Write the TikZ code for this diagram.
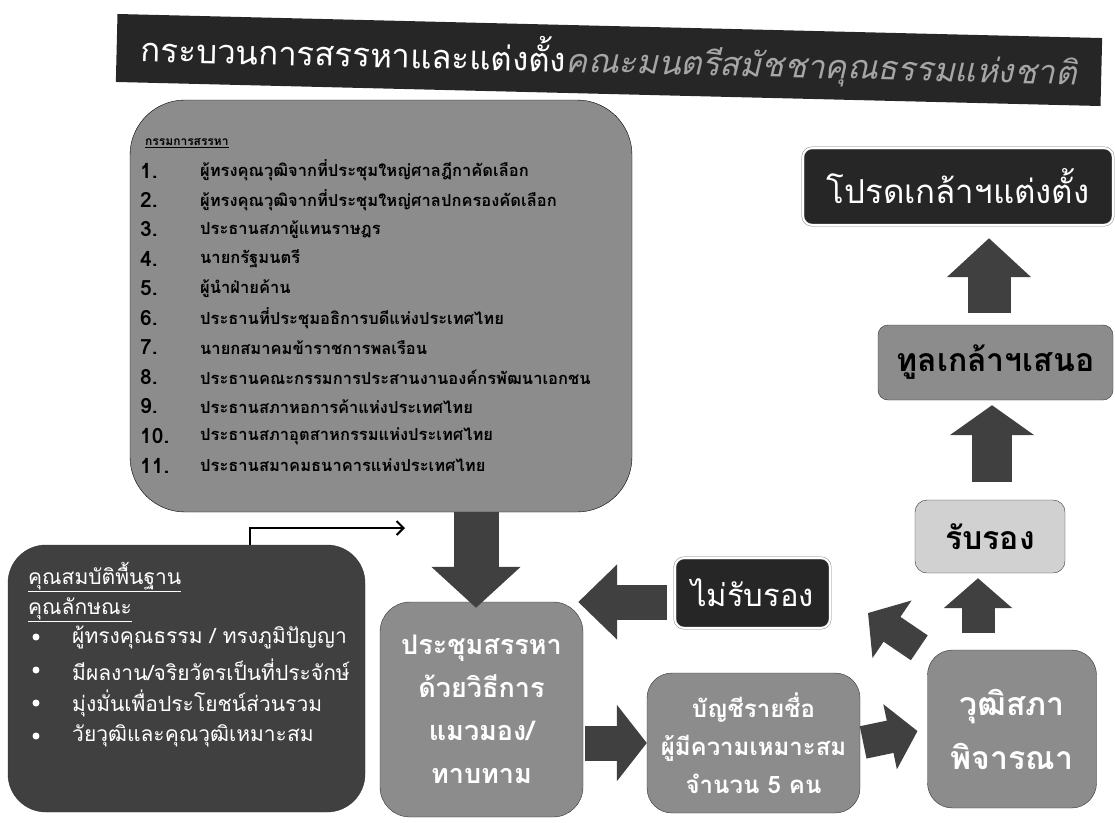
\documentclass[tikz,border=0pt]{standalone}
\usepackage{fontspec}
\newfontfamily\thaifont[Script=Thai]{Loma}
\usetikzlibrary{arrows.meta}

\begin{document}
\begin{tikzpicture}[x=1pt,y=-1pt,
    box/.style={draw=black!80,fill=black!45,align=center,inner sep=0pt,text=white,font=\thaifont\bfseries},
    darkbox/.style={draw=black!55,double=white,double distance=2pt,fill=black!85,text=white,inner sep=0pt,rounded corners=9pt,font=\thaifont\fontsize{31}{36}\selectfont},
    bigarrow/.style={draw=black!75,line width=#1},
    item/.style={anchor=west,inner sep=0pt,font=\thaifont\bfseries\fontsize{16.5}{18}\selectfont},
    qitem/.style={anchor=west,inner sep=0pt,text=white,font=\thaifont\fontsize{21}{23}\selectfont}]
    \useasboundingbox (0,0) rectangle (1115,822);
    % title
    \node[fill=black!85,text=white,rotate=-1.4,minimum width=985pt,minimum height=68pt,font=\thaifont\fontsize{33}{36}\selectfont] (title) at (609,60) {กระบวนการสรรหาและแต่งตั้ง{\itshape\color{black!35}คณะมนตรีสมัชชาคุณธรรมแห่งชาติ}};
    % committee
    \node[draw=black,fill=black!45,rounded corners=55pt,minimum width=502pt,minimum height=412pt] (comm) at (381,306) {};
    \node[item,font=\thaifont\bfseries\fontsize{12}{14}\selectfont] (head) at (145,143) {\underline{กรรมการสรรหา}};
    \foreach \t [count=\i] in {{ผู้ทรงคุณวุฒิจากที่ประชุมใหญ่ศาลฎีกาคัดเลือก},{ผู้ทรงคุณวุฒิจากที่ประชุมใหญ่ศาลปกครองคัดเลือก},{ประธานสภาผู้แทนราษฎร},{นายกรัฐมนตรี},{ผู้นำฝ่ายค้าน},{ประธานที่ประชุมอธิการบดีแห่งประเทศไทย},{นายกสมาคมข้าราชการพลเรือน},{ประธานคณะกรรมการประสานงานองค์กรพัฒนาเอกชน},{ประธานสภาหอการค้าแห่งประเทศไทย},{ประธานสภาอุตสาหกรรมแห่งประเทศไทย},{ประธานสมาคมธนาคารแห่งประเทศไทย}}
    {
        \node[item,font=\thaifont\bfseries\fontsize{21}{22}\selectfont] (n\i) at (140,{141+29.5*\i}) {\i.};
        \node[item] (t\i) at (200,{141+29.5*\i}) {\t};
    }
    % qualifications
    \node[draw=black!80,fill=black!75,rounded corners=38pt,minimum width=357pt,minimum height=267pt] (qual) at (186.5,678.5) {};
    \node[qitem] (q0) at (28,577) {\underline{คุณสมบัติพื้นฐาน}};
    \node[qitem] (q1) at (28,610) {\underline{คุณลักษณะ}};
    \foreach \t [count=\i] in {{ผู้ทรงคุณธรรม / ทรงภูมิปัญญา},{มีผลงาน/จริยวัตรเป็นที่ประจักษ์},{มุ่งมั่นเพื่อประโยชน์ส่วนรวม},{วัยวุฒิและคุณวุฒิเหมาะสม}}
    {
        \fill[white] (36,{604+33*\i}) circle[radius=3.5pt];
        \node[qitem] (b\i) at (72,{604+33*\i}) {\t};
    }
    \coordinate (feed) at (405,528);
    \draw[-{Straight Barb[length=7pt,width=14pt]},line width=2pt] ([xshift=63.5pt]qual.north) |- (feed);
    % process
    \node[box,rounded corners=30pt,minimum width=203pt,minimum height=215pt,font=\thaifont\bfseries\fontsize{27}{43}\selectfont] (meet) at (481.5,709.5) {ประชุมสรรหา\\ด้วยวิธีการ\\แมวมอง/\\ทาบทาม};
    \node[box,rounded corners=25pt,minimum width=213pt,minimum height=140pt,font=\thaifont\bfseries\fontsize{24}{38}\selectfont] (list) at (753.5,743) {บัญชีรายชื่อ\\ผู้มีความเหมาะสม\\จำนวน 5 คน};
    \node[box,rounded corners=25pt,minimum width=169pt,minimum height=158pt,font=\thaifont\bfseries\fontsize{32}{54}\selectfont] (senate) at (1012,729) {วุฒิสภา\\พิจารณา};
    \node[darkbox,minimum width=155pt,minimum height=70pt] (reject) at (752.5,593) {ไม่รับรอง};
    \node[box,fill=black!18,text=black,rounded corners=12pt,minimum width=150pt,minimum height=73pt,font=\thaifont\bfseries\fontsize{32}{36}\selectfont] (accept) at (990,536.5) {รับรอง};
    \node[box,text=black,rounded corners=10pt,minimum width=235pt,minimum height=75pt,font=\thaifont\bfseries\fontsize{32}{36}\selectfont] (present) at (995.5,362.5) {ทูลเกล้าฯเสนอ};
    \node[darkbox,minimum width=310pt,minimum height=77pt,font=\thaifont\fontsize{33}{36}\selectfont] (appoint) at (958,186.5) {โปรดเกล้าฯแต่งตั้ง};
    % block arrows
    \draw[bigarrow=45pt,-{Triangle[width=87pt,length=41pt]},shorten >=-6pt] ([xshift=-5.5pt]meet.north |- comm.south) -- ([xshift=-5.5pt]meet.north);
    \draw[bigarrow=35pt,-{Triangle[width=75pt,length=30pt]},shorten <=2pt] (meet.east |- list) -- (list.west);
    \draw[bigarrow=33pt,-{Triangle[width=65pt,length=28pt]},shorten <=3pt,shorten >=10pt] (list.east) -- (senate.west);
    \draw[bigarrow=33pt,-{Triangle[width=67pt,length=30pt]},shorten <=17pt,shorten >=5pt] ([xshift=-34pt]senate.north) -- ([xshift=-34pt]senate.north |- accept.south);
    \draw[bigarrow=40pt,-{Triangle[width=83pt,length=30pt]},shorten <=18pt,shorten >=5pt] ([xshift=2pt]accept.north) -- ([xshift=2pt]accept.north |- present.south);
    \draw[bigarrow=43pt,-{Triangle[width=82pt,length=39pt]},shorten <=12pt,shorten >=13pt] ([xshift=-6.5pt]present.north) -- ([xshift=-6.5pt]present.north |- appoint.south);
    \draw[bigarrow=35pt,-{Triangle[width=73pt,length=39pt]},shorten <=8pt,shorten >=-5pt] ([yshift=-9pt]reject.west) -- ([yshift=-9pt]reject.west -| meet.east);
    \coordinate (back) at (868,613);
    \draw[bigarrow=30pt,-{Triangle[width=68pt,length=29pt]}] ([shift={(-8,-2)}]senate.north west) -- (back);
\end{tikzpicture}
\end{document}
